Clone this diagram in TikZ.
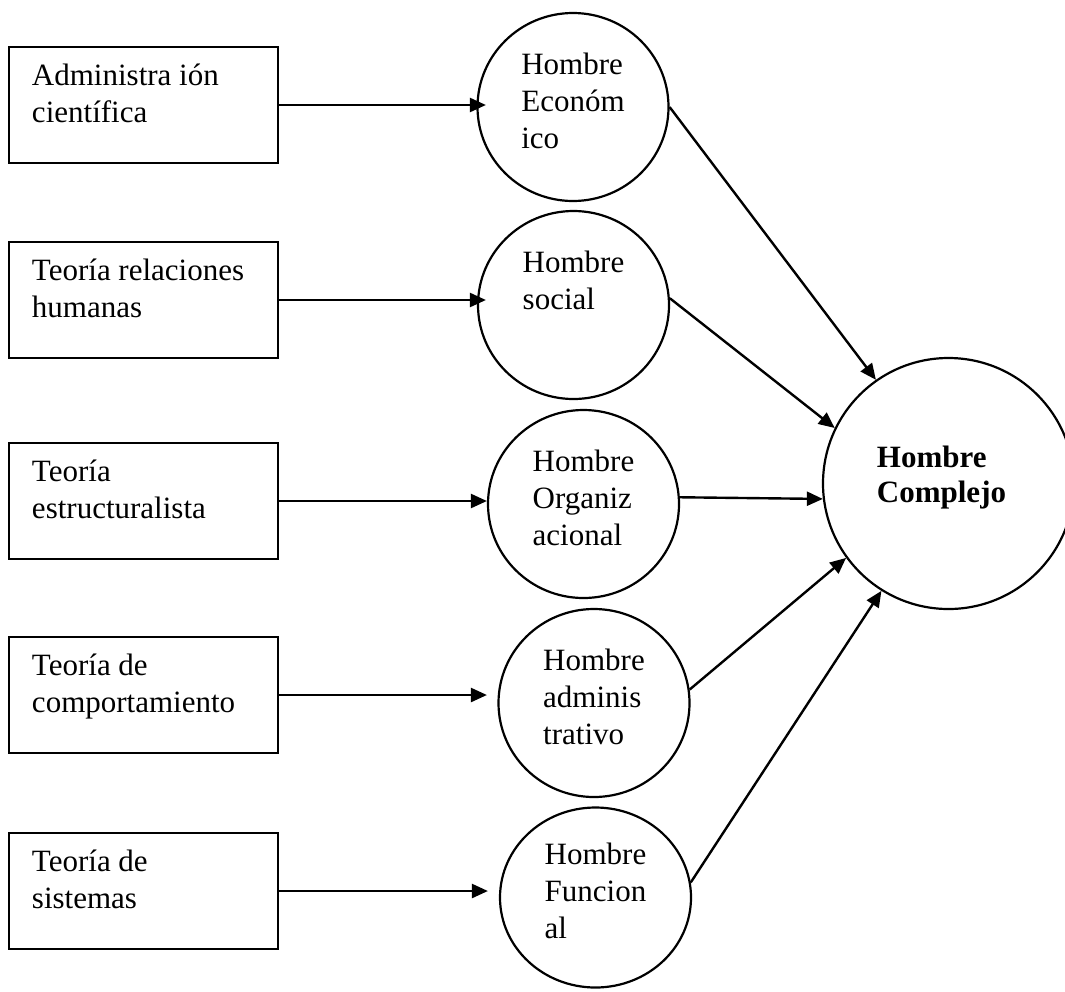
\documentclass[tikz,border=0pt]{standalone}
\usepackage{fontspec}
\setmainfont{Liberation Serif}
\usetikzlibrary{arrows.meta,shapes.geometric}
\newcommand\mybox[1]{\parbox[c][58pt][t]{111.5pt}{\raggedright\rule{0pt}{19pt}#1}}
\newcommand\lastdepth{\rule[-8.5pt]{0pt}{0pt}}
\begin{document}
\begin{tikzpicture}[x=0.5pt,y=-0.5pt,
  every node/.style={font=\fontsize{15.5pt}{18.5pt}\selectfont},
  boxst/.style={draw, line width=1.1pt, rectangle, inner xsep=11.5pt, inner ysep=0pt},
  circst/.style={draw, line width=1.1pt, ellipse, inner sep=0pt, minimum width=95.5pt, minimum height=94pt, align=left},
  bigst/.style={draw, line width=1.1pt, circle, inner sep=0pt, minimum size=125.5pt, align=left, font=\fontsize{15.5pt}{17.5pt}\selectfont\bfseries},
  conn/.style={line width=1.2pt, -{Triangle[length=8pt,width=7pt]}},
]
\path[use as bounding box] (0,0) rectangle (1065,991);
\clip (0,0) rectangle (1065,991);

% boxes
\node[boxst] (b1) at (143.5,105) {\mybox{Administra ión\\científica}};
\node[boxst] (b2) at (143.5,300) {\mybox{Teoría relaciones\\humanas}};
\node[boxst] (b3) at (143.5,501) {\mybox{Teoría\\estructuralista}};
\node[boxst] (b4) at (143.5,695) {\mybox{Teoría de\\comportamiento}};
\node[boxst] (b5) at (143.5,891) {\mybox{Teoría de\\sistemas}};

% circles
\node[circst] (c1) at (573,107) {\strut Hombre\\Económ\\ico\lastdepth};
\node[circst] (c2) at (573.5,305) {\strut Hombre\\social\\\lastdepth};
\node[circst] (c3) at (583.5,504) {\strut Hombre\\Organiz\\acional\lastdepth};
\node[circst] (c4) at (594,703) {\strut Hombre\\adminis\\trativo\lastdepth};
\node[circst, minimum height=90pt] (c5) at (595.5,897.5) {\strut Hombre\\Funcion\\al\lastdepth};

\node[bigst] (C) at (948.5,483.5) {\strut Hombre\\Complejo\hspace*{7pt}\rule[-10.5pt]{0pt}{0pt}};

% connectors box -> circle
\draw[conn, shorten >=-4.75pt] (b1.east) -- (b1.east -| c1.west);
\draw[conn, shorten >=-4.5pt] (b2.east) -- (b2.east -| c2.west);
\draw[conn] (b3.east) -- (b3.east -| c3.west);
\draw[conn, shorten >=5.25pt] (b4.east) -- (b4.east -| c4.west);
\draw[conn, shorten >=5.5pt] (b5.east) -- (b5.east -| c5.west);

% connectors circle -> big circle
\draw[conn] (c1.0) -- (C.125);
\draw[conn] (c2.4) -- (C.154);
\draw[conn] (c3.4) -- (C.187);
\draw[conn] (c4.8) -- (C.216);
\draw[conn] (c5.9) -- (C.238);
\end{tikzpicture}
\end{document}
